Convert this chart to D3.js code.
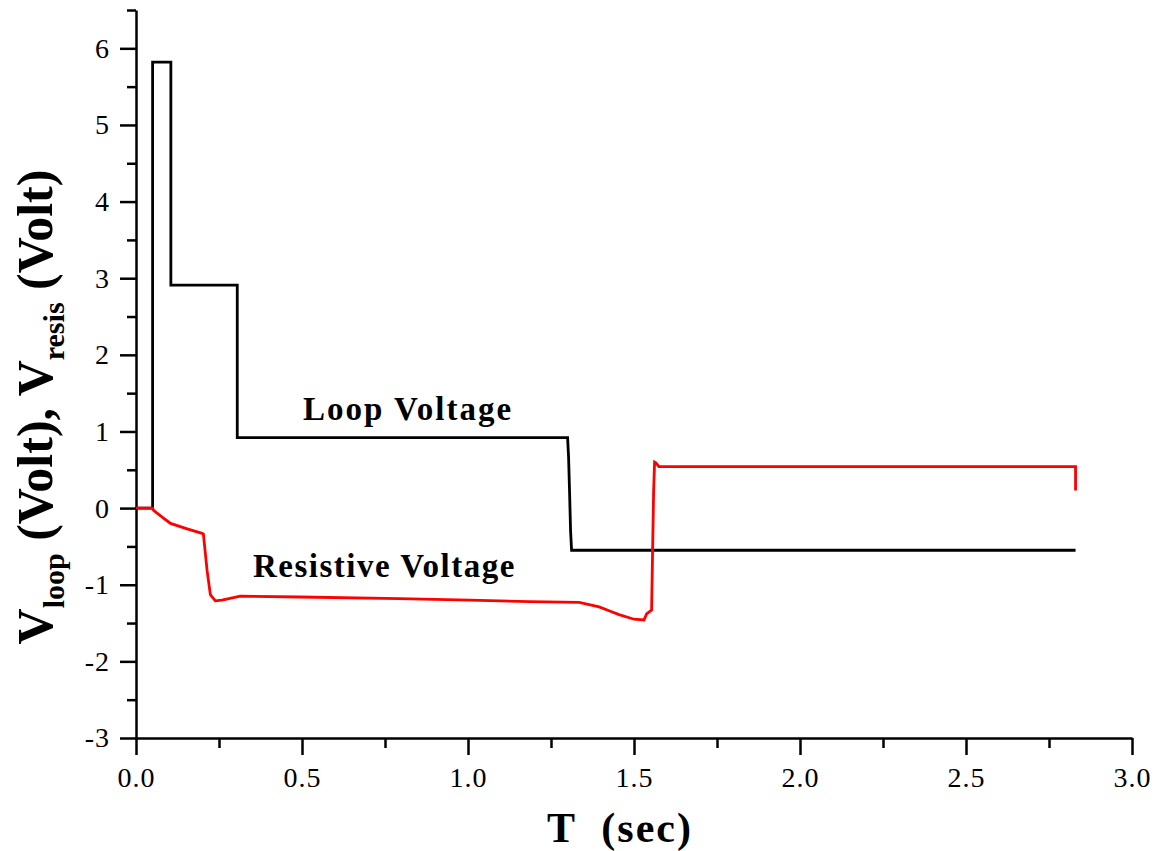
<!DOCTYPE html>
<html>
<head>
<meta charset="utf-8">
<script src="https://cdn.jsdelivr.net/npm/d3@7"></script>
<style>
  body { margin: 0; background: #fff; }
  text { font-family: "Liberation Serif", "Times New Roman", serif; }
</style>
</head>
<body>
<svg id="chart" width="1155" height="851"></svg>
<script>
// loop voltage (black) - T in sec, V in volt
var loopT = [0, 0.05, 0.05, 0.105, 0.105, 0.305, 0.305, 1.3, 1.303, 1.306, 1.309, 1.312, 2.83];
var loopV = [0, 0, 5.82, 5.82, 2.91, 2.91, 0.92, 0.92, 0.66, 0.2, -0.3, -0.55, -0.55];

// resistive voltage (red)
var resT = [0, 0.05, 0.053, 0.074, 0.104, 0.154, 0.199, 0.203, 0.214, 0.224, 0.239, 0.259, 0.314,
            0.494, 0.794, 1.005, 1.185, 1.335, 1.365, 1.395, 1.425, 1.455, 1.5, 1.53, 1.538,
            1.553, 1.559, 1.562, 1.566, 1.575, 2.83, 2.83];
var resV = [0, 0, -0.03, -0.1, -0.2, -0.27, -0.33, -0.34, -0.81, -1.13, -1.21, -1.2, -1.15,
            -1.16, -1.18, -1.2, -1.22, -1.23, -1.26, -1.29, -1.34, -1.39, -1.45, -1.46, -1.38,
            -1.33, 0.2, 0.6, 0.59, 0.54, 0.54, 0.23];

var xTicks = [0, 0.5, 1.0, 1.5, 2.0, 2.5, 3.0];
var yTicks = [-3, -2, -1, 0, 1, 2, 3, 4, 5, 6];

var margin = { top: 10, right: 23, bottom: 113, left: 136 },
    width = 1155 - margin.left - margin.right,
    height = 851 - margin.top - margin.bottom;

var svg = d3.select("#chart");
var g = svg.append("g")
    .attr("transform", "translate(" + margin.left + "," + margin.top + ")");

var x = d3.scaleLinear().domain([0, 3]).range([0, width]);
var y = d3.scaleLinear().domain([-3, 6.5]).range([height, 0]);

// minor ticks
g.append("g")
    .attr("transform", "translate(0," + height + ")")
    .call(d3.axisBottom(x).tickValues(d3.range(0.25, 3, 0.5)).tickSize(10).tickFormat(""))
    .call(a => a.select(".domain").remove());
g.append("g")
    .call(d3.axisLeft(y).tickValues(d3.range(-2.5, 6.6, 1)).tickSize(9).tickFormat(""))
    .call(a => a.select(".domain").remove());

// X axis
g.append("g")
    .attr("transform", "translate(0," + height + ")")
    .call(d3.axisBottom(x).tickValues(xTicks).tickSize(17).tickSizeOuter(0).tickPadding(12)
        .tickFormat(d => d.toFixed(1)));
// Y axis
g.append("g")
    .call(d3.axisLeft(y).tickValues(yTicks).tickSize(16).tickSizeOuter(0).tickPadding(10)
        .tickFormat(d => String(d)));

g.selectAll(".domain, .tick line").attr("stroke", "#000").attr("stroke-width", 2.5);
g.selectAll(".tick text").attr("fill", "#000").style("font-size", "28px")
    .style("letter-spacing", "1px")
    .style("font-family", "'Liberation Serif', serif");

var line = d3.line()
    .x(d => x(d[0]))
    .y(d => y(d[1]));

g.append("path")
    .datum(loopT.map((t, i) => [t, loopV[i]]))
    .attr("fill", "none")
    .attr("stroke", "#000")
    .attr("stroke-width", 2.8)
    .attr("d", line);

g.append("path")
    .datum(resT.map((t, i) => [t, resV[i]]))
    .attr("fill", "none")
    .attr("stroke", "#ff0000")
    .attr("stroke-width", 2.8)
    .attr("d", line);

// curve labels
svg.append("text").attr("x", 303).attr("y", 420)
    .style("font-size", "33px").style("font-weight", "bold").style("letter-spacing", "2px")
    .text("Loop Voltage");
svg.append("text").attr("x", 253).attr("y", 577)
    .style("font-size", "33px").style("font-weight", "bold").style("letter-spacing", "1.5px")
    .text("Resistive Voltage");

// axis titles
svg.append("text")
    .attr("x", 620).attr("y", 842)
    .attr("text-anchor", "middle")
    .style("font-size", "42px").style("font-weight", "bold").style("letter-spacing", "2px")
    .attr("xml:space", "preserve")
    .text("T  (sec)");

var yt = svg.append("text")
    .attr("transform", "translate(52,407) rotate(-90)")
    .attr("text-anchor", "middle")
    .style("font-size", "50px").style("font-weight", "bold");
yt.append("tspan").text("V");
yt.append("tspan").attr("dy", 12).style("font-size", "30px").text("loop");
yt.append("tspan").attr("dy", -12).text(" (Volt), V");
yt.append("tspan").attr("dy", 12).style("font-size", "30px").text("resis");
yt.append("tspan").attr("dy", -12).text(" (Volt)");
</script>
</body>
</html>
